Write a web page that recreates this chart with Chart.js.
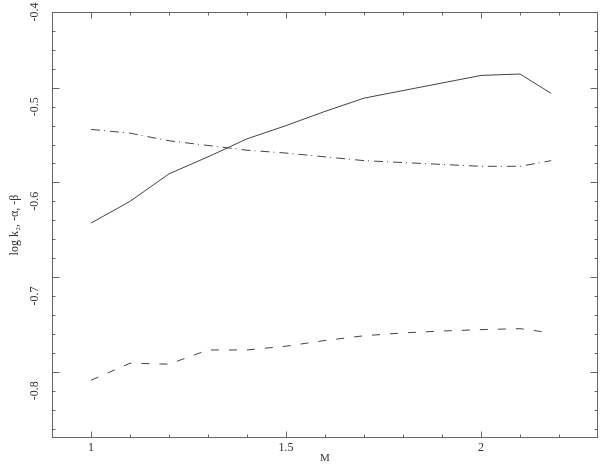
<!DOCTYPE html>
<html>
<head>
<meta charset="utf-8">
<script src="https://cdn.jsdelivr.net/npm/chart.js@4.4.1/dist/chart.umd.min.js"></script>
<style>
    html, body { margin: 0; padding: 0; background: #fff; }
    #wrap { width: 600px; height: 469px; position: relative; }
</style>
</head>
<body>
<div id="wrap"><canvas id="massChart"></canvas></div>
<script>
// values
const massValues = [1.0, 1.1, 1.2, 1.3, 1.4, 1.5, 1.6, 1.7, 1.8, 1.9, 2.0, 2.1, 2.18];
const logK2 = [-0.623, -0.600, -0.571, -0.553, -0.534, -0.520, -0.505, -0.491, -0.483, -0.475, -0.467, -0.4655, -0.486];
const minusAlpha = [-0.524, -0.528, -0.536, -0.541, -0.546, -0.549, -0.553, -0.557, -0.559, -0.561, -0.563, -0.563, -0.557];
const minusBeta = [-0.789, -0.771, -0.772, -0.757, -0.757, -0.753, -0.747, -0.742, -0.739, -0.737, -0.7355, -0.7345, -0.739];

const xTickLabels = ['1', '1.5', '2'];
const xTickValues = [1, 1.5, 2];
const yTickLabels = ['-0.8', '-0.7', '-0.6', '-0.5', '-0.4'];
const yTickValues = [-0.8, -0.7, -0.6, -0.5, -0.4];

const LINE = '#444';
const FONT = '"Liberation Serif", "DejaVu Serif", serif';

const toPoints = (ys) => massValues.map((m, i) => ({ x: m, y: ys[i] }));

const frameAxes = {
    id: 'frameAxes',
    afterDraw(chart) {
        const { ctx, chartArea: a, scales } = chart;
        const xs = scales.x, ys = scales.y;
        const L = Math.round(a.left) + 0.5, R = Math.round(a.right) - 0.5;
        const T = Math.round(a.top) + 0.5, B = Math.round(a.bottom) - 0.5;

        ctx.save();
        ctx.strokeStyle = '#666';
        ctx.lineWidth = 1;
        ctx.strokeRect(L, T, R - L, B - T);

        // x ticks, every 0.1, inward on bottom and top
        ctx.beginPath();
        for (let i = 0; i <= 12; i++) {
            const v = 1 + i * 0.1;
            const px = Math.round(xs.getPixelForValue(v)) + 0.5;
            const len = (i % 5 === 0) ? 6 : 3;
            ctx.moveTo(px, B); ctx.lineTo(px, B - len);
            ctx.moveTo(px, T); ctx.lineTo(px, T + len);
        }
        // y ticks, every 0.02, inward on left and right
        for (let i = 0; i <= 22; i++) {
            const v = -0.84 + i * 0.02;
            const py = Math.round(ys.getPixelForValue(v)) + 0.5;
            const len = (i % 5 === 3) ? 7 : 3;
            ctx.moveTo(L, py); ctx.lineTo(L + len, py);
            ctx.moveTo(R, py); ctx.lineTo(R - len, py);
        }
        ctx.stroke();

        ctx.fillStyle = '#333';
        ctx.font = '12px ' + FONT;
        ctx.textAlign = 'center';
        ctx.textBaseline = 'middle';
        xTickValues.forEach((v, i) => {
            ctx.fillText(xTickLabels[i], xs.getPixelForValue(v), 448);
        });
        yTickValues.forEach((v, i) => {
            ctx.save();
            ctx.translate(35, ys.getPixelForValue(v));
            ctx.rotate(-Math.PI / 2);
            ctx.fillText(yTickLabels[i], 0, 0);
            ctx.restore();
        });

        ctx.font = '11px ' + FONT;
        ctx.fillText('M', (a.left + a.right) / 2, 458);

        ctx.save();
        ctx.translate(15, (a.top + a.bottom) / 2);
        ctx.rotate(-Math.PI / 2);
        ctx.font = '12px ' + FONT;
        ctx.fillText('log k\u2082, -\u03B1, -\u03B2', 0, 0);
        ctx.restore();
        ctx.restore();
    }
};

new Chart(document.getElementById('massChart').getContext('2d'), {
    type: 'line',
    data: {
        datasets: [
            { label: 'log k2', data: toPoints(logK2), borderColor: LINE, borderWidth: 1 },
            { label: '-alpha', data: toPoints(minusAlpha), borderColor: LINE, borderWidth: 1, borderDash: [9, 4, 1, 5] },
            { label: '-beta', data: toPoints(minusBeta), borderColor: LINE, borderWidth: 1, borderDash: [8, 10] }
        ]
    },
    options: {
        responsive: true,
        maintainAspectRatio: false,
        animation: false,
        elements: { point: { radius: 0 }, line: { tension: 0 } },
        layout: { padding: { left: 52, top: 12, right: 2, bottom: 31 } },
        plugins: { legend: { display: false }, tooltip: { enabled: false } },
        scales: {
            x: { type: 'linear', min: 0.9, max: 2.3, display: false },
            y: { type: 'linear', min: -0.85, max: -0.4, display: false }
        }
    },
    plugins: [frameAxes]
});
</script>
</body>
</html>
